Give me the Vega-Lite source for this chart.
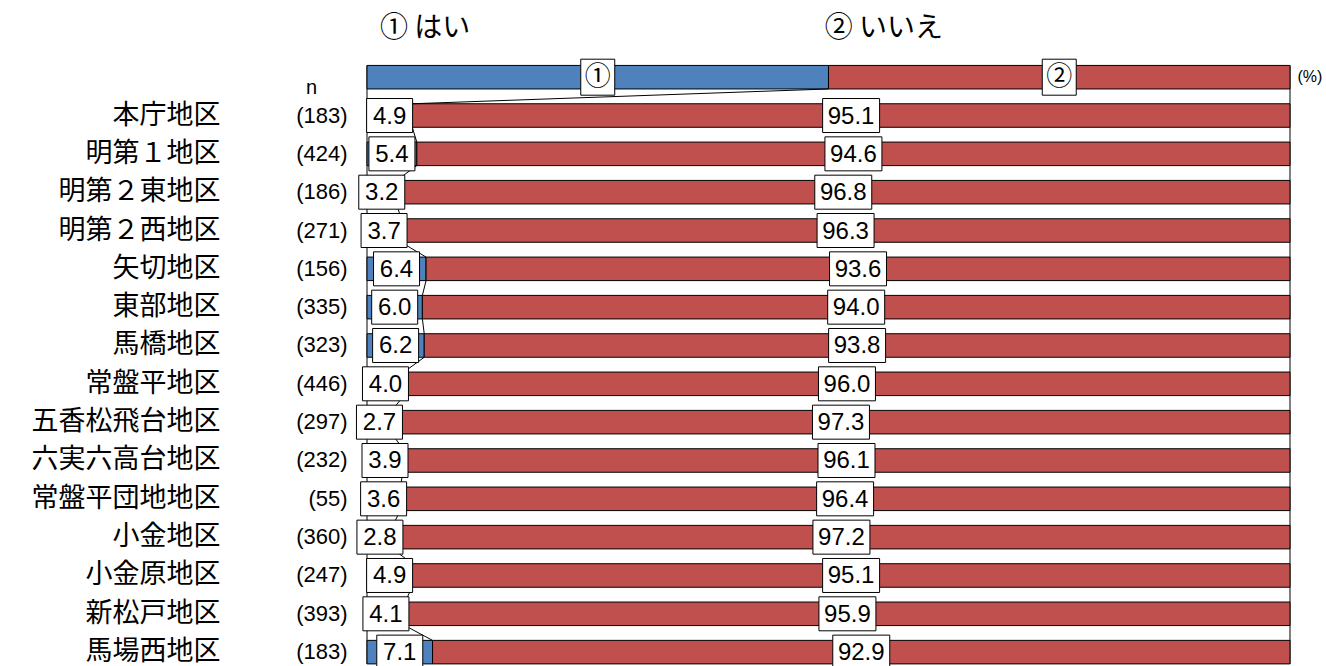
{
  "$schema": "https://vega.github.io/schema/vega-lite/v6.json",
  "autosize": "none",
  "width": 923,
  "height": 651.6,
  "padding": {"left": 367, "top": 19.7, "right": 36, "bottom": 0},
  "background": "white",
  "config": {"view": {"stroke": null}},
  "data": {"values": [
    {"i": 0, "region": "_legend", "n": null, "cat": "yes", "value": 50, "label": "①"},
    {"i": 0, "region": "_legend", "n": null, "cat": "no", "value": 50, "label": "②"},
    {"i": 1, "region": "本庁地区", "n": 183, "cat": "yes", "value": 4.9, "label": "4.9"},
    {"i": 1, "region": "本庁地区", "n": 183, "cat": "no", "value": 95.1, "label": "95.1"},
    {"i": 2, "region": "明第１地区", "n": 424, "cat": "yes", "value": 5.4, "label": "5.4"},
    {"i": 2, "region": "明第１地区", "n": 424, "cat": "no", "value": 94.6, "label": "94.6"},
    {"i": 3, "region": "明第２東地区", "n": 186, "cat": "yes", "value": 3.2, "label": "3.2"},
    {"i": 3, "region": "明第２東地区", "n": 186, "cat": "no", "value": 96.8, "label": "96.8"},
    {"i": 4, "region": "明第２西地区", "n": 271, "cat": "yes", "value": 3.7, "label": "3.7"},
    {"i": 4, "region": "明第２西地区", "n": 271, "cat": "no", "value": 96.3, "label": "96.3"},
    {"i": 5, "region": "矢切地区", "n": 156, "cat": "yes", "value": 6.4, "label": "6.4"},
    {"i": 5, "region": "矢切地区", "n": 156, "cat": "no", "value": 93.6, "label": "93.6"},
    {"i": 6, "region": "東部地区", "n": 335, "cat": "yes", "value": 6.0, "label": "6.0"},
    {"i": 6, "region": "東部地区", "n": 335, "cat": "no", "value": 94.0, "label": "94.0"},
    {"i": 7, "region": "馬橋地区", "n": 323, "cat": "yes", "value": 6.2, "label": "6.2"},
    {"i": 7, "region": "馬橋地区", "n": 323, "cat": "no", "value": 93.8, "label": "93.8"},
    {"i": 8, "region": "常盤平地区", "n": 446, "cat": "yes", "value": 4.0, "label": "4.0"},
    {"i": 8, "region": "常盤平地区", "n": 446, "cat": "no", "value": 96.0, "label": "96.0"},
    {"i": 9, "region": "五香松飛台地区", "n": 297, "cat": "yes", "value": 2.7, "label": "2.7"},
    {"i": 9, "region": "五香松飛台地区", "n": 297, "cat": "no", "value": 97.3, "label": "97.3"},
    {"i": 10, "region": "六実六高台地区", "n": 232, "cat": "yes", "value": 3.9, "label": "3.9"},
    {"i": 10, "region": "六実六高台地区", "n": 232, "cat": "no", "value": 96.1, "label": "96.1"},
    {"i": 11, "region": "常盤平団地地区", "n": 55, "cat": "yes", "value": 3.6, "label": "3.6"},
    {"i": 11, "region": "常盤平団地地区", "n": 55, "cat": "no", "value": 96.4, "label": "96.4"},
    {"i": 12, "region": "小金地区", "n": 360, "cat": "yes", "value": 2.8, "label": "2.8"},
    {"i": 12, "region": "小金地区", "n": 360, "cat": "no", "value": 97.2, "label": "97.2"},
    {"i": 13, "region": "小金原地区", "n": 247, "cat": "yes", "value": 4.9, "label": "4.9"},
    {"i": 13, "region": "小金原地区", "n": 247, "cat": "no", "value": 95.1, "label": "95.1"},
    {"i": 14, "region": "新松戸地区", "n": 393, "cat": "yes", "value": 4.1, "label": "4.1"},
    {"i": 14, "region": "新松戸地区", "n": 393, "cat": "no", "value": 95.9, "label": "95.9"},
    {"i": 15, "region": "馬場西地区", "n": 183, "cat": "yes", "value": 7.1, "label": "7.1"},
    {"i": 15, "region": "馬場西地区", "n": 183, "cat": "no", "value": 92.9, "label": "92.9"}
  ]},
  "layer": [
    {
      "data": {"values": [{}]},
      "mark": {"type": "rule", "color": "#000", "strokeWidth": 1},
      "encoding": {
        "x": {"datum": 0, "type": "quantitative", "scale": {"domain": [0, 100], "nice": false, "zero": false}, "axis": null},
        "y": {"datum": "_legend", "type": "nominal", "bandPosition": 0},
        "y2": {"datum": "馬場西地区", "bandPosition": 1}
      }
    },
    {
      "data": {"values": [{}]},
      "mark": {"type": "rule", "color": "#000", "strokeWidth": 1},
      "encoding": {
        "x": {"datum": 100, "type": "quantitative"},
        "y": {"datum": "_legend", "type": "nominal", "bandPosition": 0},
        "y2": {"datum": "馬場西地区", "bandPosition": 1}
      }
    },
    {
      "mark": {"type": "bar", "stroke": "#000", "strokeWidth": 1},
      "encoding": {
        "x": {"field": "value", "type": "quantitative", "stack": "zero"},
        "y": {
          "field": "region", "type": "nominal",
          "scale": {
            "domain": ["_header", "_legend", "本庁地区", "明第１地区", "明第２東地区", "明第２西地区", "矢切地区", "東部地区", "馬橋地区", "常盤平地区", "五香松飛台地区", "六実六高台地区", "常盤平団地地区", "小金地区", "小金原地区", "新松戸地区", "馬場西地区"],
            "paddingInner": 0.386, "paddingOuter": 0.193
          },
          "axis": {
            "title": null, "domain": false, "ticks": false, "grid": false,
            "labelFont": "Noto Sans CJK JP", "labelFontSize": 27, "labelColor": "#000",
            "labelPadding": 147, "labelLimit": 400,
            "labelExpr": "indexof(datum.value, '_') == 0 ? '' : datum.value"
          }
        },
        "color": {"field": "cat", "type": "nominal", "scale": {"domain": ["yes", "no"], "range": ["#4F81BD", "#C0504D"]}, "legend": null},
        "order": {"field": "cat", "sort": "descending"}
      }
    },
    {
      "transform": [
        {"filter": "datum.cat == 'yes'"},
        {"window": [{"op": "lead", "field": "value", "as": "nextValue"}, {"op": "lead", "field": "region", "as": "nextRegion"}], "sort": [{"field": "i"}]},
        {"filter": "datum.nextRegion != null"}
      ],
      "mark": {"type": "rule", "color": "#000", "strokeWidth": 1},
      "encoding": {
        "x": {"field": "value", "type": "quantitative"},
        "x2": {"field": "nextValue"},
        "y": {"field": "region", "type": "nominal", "bandPosition": 1},
        "y2": {"field": "nextRegion", "bandPosition": 0}
      }
    },
    {
      "transform": [{"filter": "datum.i > 0"}],
      "mark": {"type": "point", "filled": true, "fill": "white", "stroke": "#000", "strokeWidth": 1, "opacity": 1, "fillOpacity": 1, "strokeOpacity": 1, "size": 1156},
      "encoding": {
        "x": {"field": "value", "type": "quantitative", "stack": "zero", "bandPosition": 0.5},
        "y": {"field": "region", "type": "nominal"},
        "detail": {"field": "cat"},
        "order": {"field": "cat", "sort": "descending"},
        "shape": {"field": "cat", "type": "nominal", "scale": {"domain": ["yes", "no"], "range": ["M-1.353,-1H1.353V1H-1.353Z", "M-1.676,-1H1.676V1H-1.676Z"]}, "legend": null}
      }
    },
    {
      "transform": [{"filter": "datum.i == 0"}],
      "mark": {"type": "point", "filled": true, "fill": "white", "stroke": "#000", "strokeWidth": 1, "opacity": 1, "fillOpacity": 1, "strokeOpacity": 1, "size": 1296, "shape": "M-0.944,-1H0.944V1H-0.944Z"},
      "encoding": {
        "x": {"field": "value", "type": "quantitative", "stack": "zero", "bandPosition": 0.5},
        "y": {"field": "region", "type": "nominal"},
        "detail": {"field": "cat"},
        "order": {"field": "cat", "sort": "descending"}
      }
    },
    {
      "transform": [{"filter": "datum.i > 0"}],
      "mark": {"type": "text", "font": "Liberation Sans", "fontSize": 24, "color": "#000", "align": "center", "baseline": "middle", "dy": 1},
      "encoding": {
        "x": {"field": "value", "type": "quantitative", "stack": "zero", "bandPosition": 0.5},
        "y": {"field": "region", "type": "nominal"},
        "detail": {"field": "cat"},
        "order": {"field": "cat", "sort": "descending"},
        "text": {"field": "label"}
      }
    },
    {
      "transform": [{"filter": "datum.i == 0"}],
      "mark": {"type": "text", "font": "Noto Sans CJK JP", "fontSize": 26, "color": "#000", "align": "center", "baseline": "middle"},
      "encoding": {
        "x": {"field": "value", "type": "quantitative", "stack": "zero", "bandPosition": 0.5},
        "y": {"field": "region", "type": "nominal"},
        "detail": {"field": "cat"},
        "order": {"field": "cat", "sort": "descending"},
        "text": {"field": "label"}
      }
    },
    {
      "transform": [{"filter": "datum.i > 0 && datum.cat == 'yes'"}],
      "mark": {"type": "text", "font": "Liberation Sans", "fontSize": 22, "color": "#000", "align": "right", "baseline": "middle", "text": {"expr": "'(' + datum.n + ')'"}},
      "encoding": {
        "x": {"datum": -2.1, "type": "quantitative"},
        "y": {"field": "region", "type": "nominal"}
      }
    },
    {
      "data": {"values": [{}]},
      "mark": {"type": "text", "font": "Noto Sans CJK JP", "fontSize": 28, "color": "#000", "align": "left", "baseline": "middle", "dy": -10, "text": "① はい"},
      "encoding": {
        "x": {"datum": 1.4, "type": "quantitative"},
        "y": {"datum": "_header", "type": "nominal"}
      }
    },
    {
      "data": {"values": [{}]},
      "mark": {"type": "text", "font": "Noto Sans CJK JP", "fontSize": 28, "color": "#000", "align": "left", "baseline": "middle", "dy": -10, "text": "② いいえ"},
      "encoding": {
        "x": {"datum": 49.6, "type": "quantitative"},
        "y": {"datum": "_header", "type": "nominal"}
      }
    },
    {
      "data": {"values": [{}]},
      "mark": {"type": "text", "font": "Liberation Sans", "fontSize": 16, "color": "#000", "align": "left", "baseline": "middle", "text": "(%)"},
      "encoding": {
        "x": {"datum": 100.8, "type": "quantitative"},
        "y": {"datum": "_legend", "type": "nominal"}
      }
    },
    {
      "data": {"values": [{}]},
      "mark": {"type": "text", "font": "Liberation Sans", "fontSize": 20, "color": "#000", "align": "center", "baseline": "middle", "dy": 11, "text": "n"},
      "encoding": {
        "x": {"datum": -6, "type": "quantitative"},
        "y": {"datum": "_legend", "type": "nominal"}
      }
    }
  ]
}
